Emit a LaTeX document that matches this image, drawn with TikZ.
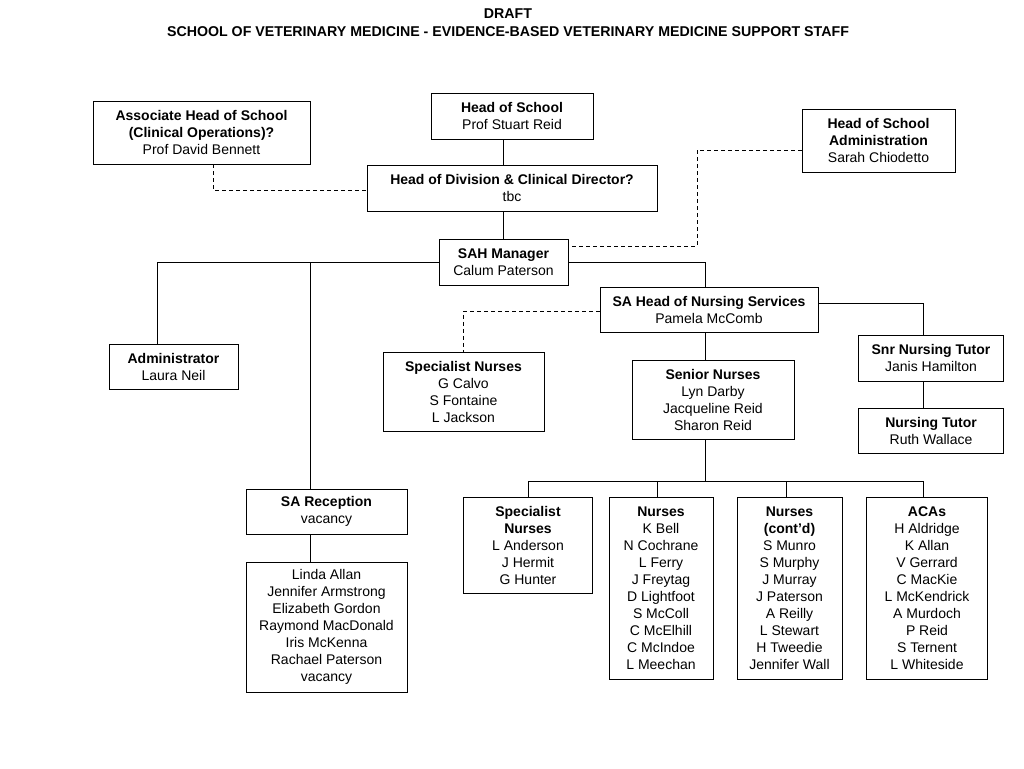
\documentclass[tikz,border=0pt]{standalone}
\usepackage{fontspec}
\setmainfont{Liberation Sans}
\usetikzlibrary{calc}

\begin{document}
\begin{tikzpicture}[x=1pt, y=-1pt,
    post/.style={draw, line width=0.9pt, align=center, inner sep=0pt,
      font=\fontsize{14}{17}\selectfont},
    link/.style={line width=0.9pt},
    adviser/.style={line width=0.9pt, dash pattern=on 4pt off 3pt}]
    \useasboundingbox (0, 0) rectangle (1024, 768);
    % title
    \node [font=\fontsize{14.2}{18}\selectfont\bfseries, align=center] (title) at (508, 22.5)
      {DRAFT\\SCHOOL OF VETERINARY MEDICINE - EVIDENCE-BASED VETERINARY MEDICINE SUPPORT STAFF};
    % top
    \node [post, minimum width=162pt, minimum height=46pt] (hos)   at (512, 116)
      {\textbf{Head of School}\\Prof Stuart Reid};
    \node [post, minimum width=217pt, minimum height=63pt] (assoc) at (201.5, 132.5)
      {\textbf{Associate Head of School}\\\textbf{(Clinical Operations)?}\\Prof David Bennett};
    \node [post, minimum width=153pt, minimum height=63pt] (hosadm) at (878.5, 140.5)
      {\textbf{Head of School}\\\textbf{Administration}\\Sarah Chiodetto};
    \node [post, minimum width=290pt, minimum height=46pt] (hod)   at (512, 188)
      {\textbf{Head of Division \& Clinical Director?}\\tbc};
    \node [post, minimum width=129pt, minimum height=46pt] (sah)   at (503.5, 262)
      {\textbf{SAH Manager}\\Calum Paterson};
    % left
    \node [post, minimum width=129pt, minimum height=45pt] (admin) at (173.5, 366.5)
      {\textbf{Administrator}\\Laura Neil};
    \node [post, minimum width=161pt, minimum height=45pt] (recep) at (326.5, 511.5)
      {\textbf{SA Reception}\\vacancy};
    \node [post, minimum width=161pt, minimum height=130pt] (staff) at (326.5, 627)
      {Linda Allan\\Jennifer Armstrong\\Elizabeth Gordon\\Raymond MacDonald\\Iris McKenna\\Rachael Paterson\\vacancy};
    % nursing
    \node [post, minimum width=218pt, minimum height=45pt] (nursing) at (709, 309.5)
      {\textbf{SA Head of Nursing Services}\\Pamela McComb};
    \node [post, minimum width=161pt, minimum height=79pt] (specup) at (463.5, 391.5)
      {\textbf{Specialist Nurses}\\G Calvo\\S Fontaine\\L Jackson};
    \node [post, minimum width=162pt, minimum height=79pt] (senior) at (713, 399.5)
      {\textbf{Senior Nurses}\\Lyn Darby\\Jacqueline Reid\\Sharon Reid};
    \node [post, minimum width=145pt, minimum height=46pt] (snrtutor) at (931, 358)
      {\textbf{Snr Nursing Tutor}\\Janis Hamilton};
    \node [post, minimum width=145pt, minimum height=45pt] (tutor) at (931, 430.5)
      {\textbf{Nursing Tutor}\\Ruth Wallace};
    % bottom row
    \node [post, minimum width=129pt, minimum height=96pt] (specbot) at (528, 545)
      {\textbf{Specialist}\\\textbf{Nurses}\\L Anderson\\J Hermit\\G Hunter};
    \node [post, minimum width=104pt, minimum height=182pt] (nurses) at (661, 588)
      {\textbf{Nurses}\\K Bell\\N Cochrane\\L Ferry\\J Freytag\\D Lightfoot\\S McColl\\C McElhill\\C McIndoe\\L Meechan};
    \node [post, minimum width=105pt, minimum height=182pt] (nursescont) at (789.5, 588)
      {\textbf{Nurses}\\\textbf{(cont'd)}\\S Munro\\S Murphy\\J Murray\\J Paterson\\A Reilly\\L Stewart\\H Tweedie\\Jennifer Wall};
    \node [post, minimum width=121pt, minimum height=182pt] (acas) at (927, 588)
      {\textbf{ACAs}\\H Aldridge\\K Allan\\V Gerrard\\C MacKie\\L McKendrick\\A Murdoch\\P Reid\\S Ternent\\L Whiteside};
    % solid lines
    \draw [link] (sah.north |- hos.south) -- (sah.north |- hod.north);
    \draw [link] (sah.north |- hod.south) -- (sah.north);
    \draw [link] (sah.west) -| ($(admin.north)+(-16.5, 0)$);
    \draw [link] ($(sah.west -| recep.north)+(-16.5, 0)$) -- ($(recep.north)+(-16.5, 0)$);
    \draw [link] ($(recep.south)+(-16.5, 0)$) -- ($(staff.north)+(-16.5, 0)$);
    \draw [link] (sah.east) -| ($(nursing.north)+(-4, 0)$);
    \draw [link] ($(nursing.east)+(0, -6.5)$) -| ($(snrtutor.north)+(-8, 0)$);
    \draw [link] ($(snrtutor.south)+(-8, 0)$) -- ($(tutor.north)+(-8, 0)$);
    \draw [link] ($(nursing.south)+(-4, 0)$) -- ($(senior.north)+(-8, 0)$);
    \coordinate (bus) at (705, 481);
    \draw [link] ($(senior.south)+(-8, 0)$) -- (bus);
    \draw [link] (specbot.north) |- ($(acas.north |- bus)+(-4, 0)$) -- ($(acas.north)+(-4, 0)$);
    \draw [link] ($(nurses.north |- bus)+(-4, 0)$) -- ($(nurses.north)+(-4, 0)$);
    \draw [link] ($(nursescont.north |- bus)+(-3.5, 0)$) -- ($(nursescont.north)+(-3.5, 0)$);
    % dashed lines
    \draw [adviser] ($(assoc.south)+(11.5, 0)$) |- ($(hod.west)+(0, 2)$);
    \draw [adviser] ($(hosadm.west)+(0, 9.5)$) -| (697, 246) -- ($(sah.east)+(0, -16)$);
    \draw [adviser] ($(nursing.west)+(0, 1.5)$) -| (specup.north);
  \end{tikzpicture}
\end{document}
